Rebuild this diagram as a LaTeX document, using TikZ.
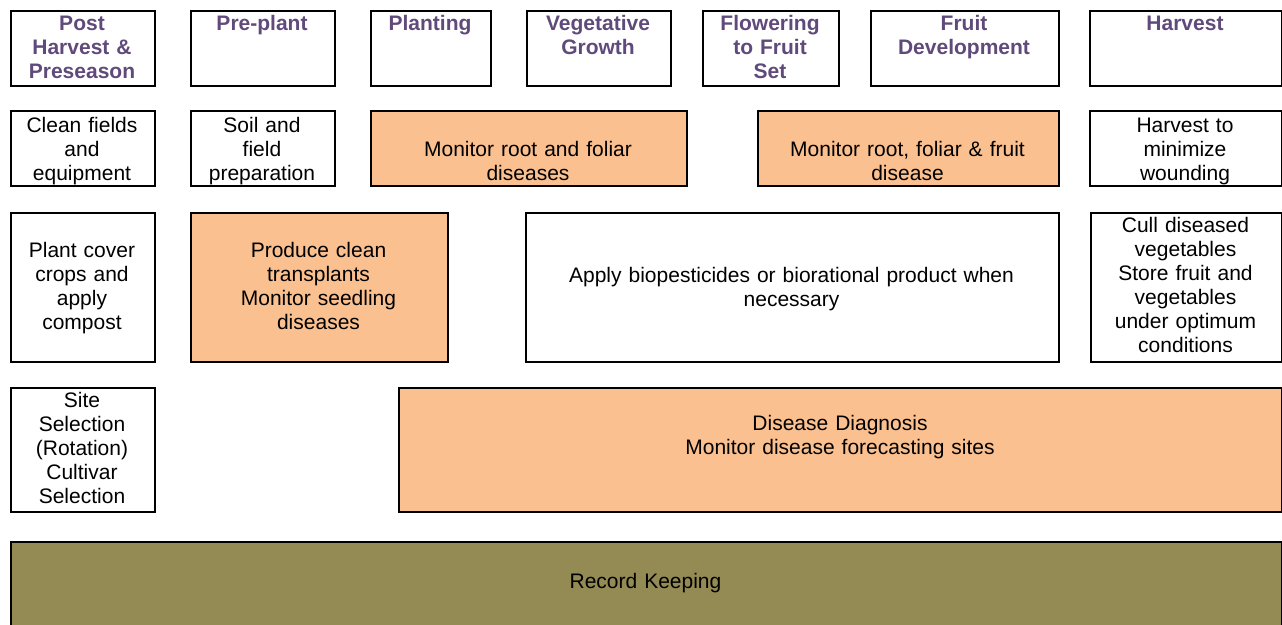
\documentclass[tikz,border=0pt]{standalone}
\usepackage{fontspec}
\setmainfont{Liberation Sans}
\definecolor{boxorange}{HTML}{FAC090}
\definecolor{olivebar}{HTML}{948A54}
\definecolor{headpurple}{HTML}{604A7B}
\begin{document}
\begin{tikzpicture}[x=1pt,y=-1pt,
  box/.style={rectangle,draw=black,line width=2pt,fill=white,inner sep=0pt,anchor=north west},
  obox/.style={box,fill=boxorange},
  rbox/.style={box,fill=olivebar},
  txt/.style={anchor=base,inner sep=0pt,align=center,text width=#1,font=\fontsize{21}{24}\selectfont},
  txt/.default=300pt,
  hd/.style={anchor=base,inner sep=0pt,align=center,text width=200pt,text=headpurple,font=\fontsize{21}{24}\selectfont\bfseries}
]
\clip (0,0) rectangle (1282,624);
\fill[white] (0,0) rectangle (1282,624);

% header row
\node[box,minimum width=144pt,minimum height=75pt] (h1) at (10,10) {};
\node[box,minimum width=144pt,minimum height=75pt] (h2) at (190,10) {};
\node[box,minimum width=120pt,minimum height=75pt] (h3) at (370,10) {};
\node[box,minimum width=144pt,minimum height=75pt] (h4) at (526,10) {};
\node[box,minimum width=136pt,minimum height=75pt] (h5) at (702,10) {};
\node[box,minimum width=188pt,minimum height=75pt] (h6) at (870,10) {};
\node[box,minimum width=192pt,minimum height=75pt] (h7) at (1089,10) {};

\node[hd] (t1) at (82,30) {Post\\Harvest \&\\Preseason};
\node[hd] (t2) at (262,30) {Pre-plant};
\node[hd] (t3) at (430,30) {Planting};
\node[hd] (t4) at (598,30) {Vegetative\\Growth};
\node[hd] (t5) at (770,30) {Flowering\\to Fruit\\Set};
\node[hd] (t6) at (964,30) {Fruit\\Development};
\node[hd] (t7) at (1185,30) {Harvest};

% row 2
\node[box,minimum width=144pt,minimum height=75pt] (r2a) at (10,110) {};
\node[box,minimum width=144pt,minimum height=75pt] (r2b) at (190,110) {};
\node[obox,minimum width=316pt,minimum height=75pt] (r2c) at (370,110) {};
\node[obox,minimum width=301pt,minimum height=75pt] (r2d) at (757,110) {};
\node[box,minimum width=192pt,minimum height=75pt] (r2e) at (1089,110) {};

\node[txt] (s2a) at (82,132) {Clean fields\\and\\equipment};
\node[txt] (s2b) at (262,132) {Soil and\\field\\preparation};
\node[txt] (s2c) at (528,156) {Monitor root and foliar\\diseases};
\node[txt] (s2d) at (907.5,156) {Monitor root, foliar \& fruit\\disease};
\node[txt] (s2e) at (1185,132) {Harvest to\\minimize\\wounding};

% row 3
\node[box,minimum width=144pt,minimum height=149pt] (r3a) at (10,212) {};
\node[obox,minimum width=257pt,minimum height=149pt] (r3b) at (190,212) {};
\node[box,minimum width=533pt,minimum height=149pt] (r3c) at (525,212) {};
\node[box,minimum width=191pt,minimum height=149pt] (r3d) at (1090,212) {};

\node[txt] (s3a) at (82,257) {Plant cover\\crops and\\apply\\compost};
\node[txt] (s3b) at (318.5,257) {Produce clean\\transplants\\Monitor seedling\\diseases};
\node[txt=520pt] (s3c) at (791.5,282) {Apply biopesticides or biorational product when\\necessary};
\node[txt] (s3d) at (1185.5,232) {Cull diseased\\vegetables\\Store fruit and\\vegetables\\under optimum\\conditions};

% row 4
\node[box,minimum width=144pt,minimum height=124pt] (r4a) at (10,387) {};
\node[obox,minimum width=883pt,minimum height=124pt] (r4b) at (398,387) {};

\node[txt] (s4a) at (82,407) {Site\\Selection\\(Rotation)\\Cultivar\\Selection};
\node[txt=500pt] (s4b) at (840,430) {Disease Diagnosis\\Monitor disease forecasting sites};

% record keeping
\node[rbox,minimum width=1271pt,minimum height=95pt] (r5) at (10,541) {};
\node[txt] (s5) at (645.5,588) {Record Keeping};
\end{tikzpicture}
\end{document}
